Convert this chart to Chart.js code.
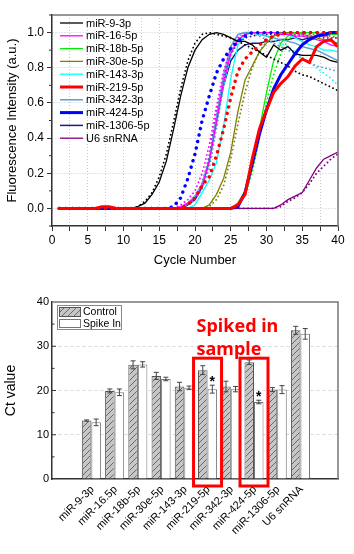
<!DOCTYPE html>
<html lang="en">
<head>
<meta charset="UTF-8">
<title>miRNA qPCR curves and Ct values</title>
<style>
  body { margin: 0; background: #fff; }
  canvas { display: block; }
</style>
</head>
<body>
<canvas id="curves" width="354" height="276"></canvas>
<canvas id="ctbars" width="354" height="278"></canvas>

<script src="https://cdn.jsdelivr.net/npm/chart.js"></script>
<script>
// ---------- amplification curves (top panel) ----------
const cycles = [1,2,3,4,5,6,7,8,9,10,11,12,13,14,15,16,17,18,19,20,21,22,23,24,25,26,27,28,29,30,31,32,33,34,35,36,37,38,39,40];

// solid = replicate 1, dotted = replicate 2
const mir9_a   = [0,0,0,0,0,0,0,0,0,0,0,0.01,0.03,0.08,0.15,0.27,0.45,0.64,0.80,0.90,0.96,0.99,1.00,0.99,0.97,0.95,0.95,0.93,0.89,0.86,0.93,0.90,0.92,0.88,0.87,0.87,0.87,0.86,0.84,0.83];
const mir9_b   = [0,0,0,0,0,0,0,0,0,0,0,0.01,0.04,0.09,0.18,0.31,0.49,0.68,0.84,0.94,0.99,1.00,0.99,0.98,0.97,0.95,0.93,0.91,0.89,0.87,0.85,0.83,0.81,0.78,0.76,0.75,0.73,0.71,0.69,0.67];
const mir16_a  = [0,0,0,0,0,0,0,0,0,0,0,0,0,0,0,0,0,0.01,0.03,0.06,0.13,0.27,0.49,0.72,0.88,0.96,0.99,1.00,1.00,1.00,1.00,0.99,0.99,0.98,0.98,0.97,0.96,0.95,0.93,0.92];
const mir16_b  = [0,0,0,0,0,0,0,0,0,0,0,0,0,0,0,0,0,0.02,0.05,0.10,0.20,0.36,0.58,0.78,0.91,0.97,0.99,1.00,1.00,1.00,1.00,1.00,0.99,0.99,0.99,0.98,0.98,0.98,0.97,0.97];
const mir18b_a = [0,0,0,0,0,0,0,0,0,0,0,0,0,0,0,0,0,0,0,0,0,0,0,0,0,0.03,0.10,0.24,0.45,0.66,0.84,0.94,0.98,1.00,1.00,1.00,1.00,0.99,0.99,0.99];
const mir18b_b = [0,0,0,0,0,0,0,0,0,0,0,0,0,0,0,0,0,0,0,0,0,0,0,0,0,0.02,0.08,0.20,0.40,0.60,0.76,0.88,0.96,0.99,1.00,1.00,1.00,1.00,0.99,0.99];
const mir30e_a = [0,0,0,0,0,0,0,0,0,0,0,0,0,0,0,0,0,0,0,0,0,0.02,0.08,0.17,0.32,0.55,0.73,0.81,0.89,0.94,0.98,1.00,1.00,1.00,0.99,0.98,0.97,0.96,0.95,0.94];
const mir30e_b = [0,0,0,0,0,0,0,0,0,0,0,0,0,0,0,0,0,0,0,0,0,0.01,0.05,0.13,0.28,0.48,0.66,0.80,0.89,0.95,0.98,1.00,1.00,1.00,1.00,0.99,0.99,0.98,0.98,0.97];
const mir143_a = [0,0,0,0,0,0,0,0,0,0,0,0,0,0,0,0,0,0,0,0.02,0.09,0.16,0.26,0.47,0.74,0.93,0.99,1.00,1.00,1.00,1.00,1.00,0.99,0.97,0.95,0.93,0.92,0.90,0.90,0.89];
const mir143_b = [0,0,0,0,0,0,0,0,0,0,0,0,0,0,0,0,0,0,0.03,0.07,0.14,0.27,0.48,0.70,0.86,0.95,0.99,1.00,0.99,0.98,0.96,0.94,0.92,0.89,0.86,0.83,0.80,0.77,0.74,0.70];
const mir219_a = [0,0,0,0,0,0,0.01,0.01,0,0,0,0,0,0,0,0,0,0,0,0,0,0,0,0,0,0.02,0.08,0.28,0.45,0.56,0.66,0.71,0.75,0.81,0.85,0.83,0.92,0.95,0.96,0.92];
const mir219_b = [0,0,0,0,0,0,0,0,0,0,0,0,0,0,0,0,0,0,0.02,0.06,0.13,0.18,0.30,0.45,0.63,0.78,0.85,0.89,0.93,0.96,0.98,0.99,1.00,1.00,1.00,1.00,1.00,1.00,1.00,1.00];
const mir342_a = [0,0,0,0,0,0,0,0,0,0,0,0,0,0,0,0,0,0,0.03,0.07,0.14,0.28,0.52,0.76,0.92,0.99,1.00,1.00,0.99,0.98,0.97,0.96,0.95,0.94,0.92,0.91,0.90,0.88,0.86,0.84];
const mir342_b = [0,0,0,0,0,0,0,0,0,0,0,0,0,0,0,0,0,0,0.02,0.05,0.11,0.23,0.45,0.70,0.89,0.98,1.00,0.99,0.98,0.96,0.94,0.92,0.90,0.88,0.85,0.83,0.81,0.80,0.79,0.78];
const mir424_a = [0,0,0,0,0,0,0,0,0,0,0,0,0,0,0,0,0,0,0,0,0,0,0,0,0,0.01,0.09,0.25,0.42,0.56,0.68,0.76,0.82,0.88,0.93,0.96,0.98,0.99,1.00,1.00];
const mir424_b = [0,0,0,0,0,0,0,0,0,0,0,0,0,0,0,0,0.01,0.06,0.17,0.31,0.50,0.64,0.77,0.85,0.91,0.95,0.98,1.00,1.00,1.00,1.00,1.00,1.00,1.00,1.00,1.00,1.00,1.00,1.00,1.00];
const mir1306_a = [0,0,0,0,0,0,0,0,0,0,0,0,0,0,0,0,0,0,0.02,0.05,0.12,0.27,0.50,0.70,0.84,0.90,0.93,0.94,0.94,0.95,0.95,0.96,0.96,0.97,0.96,0.97,0.98,0.98,0.99,0.99];
const mir1306_b = [0,0,0,0,0,0,0,0,0,0,0,0,0,0,0,0,0,0,0.03,0.06,0.14,0.30,0.54,0.75,0.88,0.94,0.97,0.98,0.99,0.99,0.99,0.99,0.99,0.98,0.98,0.98,0.98,0.97,0.97,0.97];
const u6_a     = [0,0,0,0,0,0,0,0,0,0,0,0,0,0,0,0,0,0,0,0,0,0,0,0,0,0,0,0,0,0,0,0.02,0.05,0.07,0.09,0.16,0.23,0.28,0.30,0.32];
const u6_b     = [0,0,0,0,0,0,0,0,0,0,0,0,0,0,0,0,0,0,0,0,0,0,0,0,0,0,0,0,0,0,0,0.01,0.04,0.06,0.09,0.14,0.20,0.24,0.28,0.31];

const seriesNames = ['miR-9-3p', 'miR-16-5p', 'miR-18b-5p', 'miR-30e-5p', 'miR-143-3p',
                     'miR-219-5p', 'miR-342-3p', 'miR-424-5p', 'miR-1306-5p', 'U6 snRNA'];
const solidRuns  = [mir9_a, mir16_a, mir18b_a, mir30e_a, mir143_a, mir219_a, mir342_a, mir424_a, mir1306_a, u6_a];
const dottedRuns = [mir9_b, mir16_b, mir18b_b, mir30e_b, mir143_b, mir219_b, mir342_b, mir424_b, mir1306_b, u6_b];

const seriesColors = ['#000000', '#ff00ff', '#00ee00', '#808000', '#00ffff',
                      '#ff0000', '#5b9bd5', '#0000ff', '#1c1c80', '#800080'];
const lineWidths   = [1.3, 1.3, 1.3, 1.3, 1.3, 3, 1.5, 3, 1.5, 1.3];

// ---------- Ct values (bottom panel) ----------
const targets   = ['miR-9-3p', 'miR-16.5p', 'miR-18b-5p', 'miR-30e-5p', 'miR-143-3p',
                   'miR-219-5p', 'miR-342-3p', 'miR-424-5p', 'miR-1306-5p', 'U6 snRNA'];
const controlCt = [13.2, 19.9, 25.8, 23.3, 20.9, 24.6, 20.9, 26.4, 20.2, 33.6];
const controlSd = [0.15, 0.45, 0.9, 0.8, 0.95, 1.0, 1.2, 0.5, 0.45, 0.9];
const spikeCt   = [12.8, 19.6, 25.9, 22.6, 20.6, 20.3, 20.3, 17.4, 20.2, 32.8];
const spikeSd   = [0.75, 0.75, 0.6, 0.4, 0.4, 0.9, 0.6, 0.4, 0.9, 1.2];
const spikedIdx = [5, 7];   // targets spiked into the sample (boxed, starred)

const FONT = "'Liberation Sans', Arial, sans-serif";
Chart.defaults.font.family = FONT;
Chart.defaults.color = '#000';
Chart.defaults.animation = false;

// top chart: lines
const curveSets = [];
seriesNames.forEach((name, i) => {
    const thick = lineWidths[i] >= 3;
    curveSets.push({
        label: name,
        data: cycles.map((c, k) => ({ x: c, y: solidRuns[i][k] })),
        borderColor: seriesColors[i],
        borderWidth: lineWidths[i],
        pointRadius: 0,
        order: thick ? 0 : 1
    });
    curveSets.push({
        label: '',
        data: cycles.map((c, k) => ({ x: c, y: dottedRuns[i][k] })),
        borderColor: seriesColors[i],
        borderWidth: thick ? 3.4 : 1.8,
        borderDash: thick ? [0.1, 6.5] : [0.1, 4],
        borderCapStyle: 'round',
        pointRadius: 0,
        order: thick ? 0 : 1
    });
});

const curveDecor = {
    id: 'curveDecor',
    afterDraw(chart) {
        const { ctx, chartArea: a, scales: { y } } = chart;
        ctx.save();
        // top/right frame
        ctx.strokeStyle = '#777';
        ctx.lineWidth = 1.5;
        ctx.beginPath();
        ctx.moveTo(a.left, a.top);
        ctx.lineTo(a.right, a.top);
        ctx.lineTo(a.right, a.bottom);
        ctx.stroke();
        // minor y ticks
        ctx.strokeStyle = '#333';
        ctx.lineWidth = 1;
        ctx.beginPath();
        for (let k = -1; k <= 11; k += 2) {
            const py = y.getPixelForValue(k / 10);
            ctx.moveTo(a.left - 3, py);
            ctx.lineTo(a.left, py);
        }
        ctx.stroke();
        // legend inside plot
        ctx.font = '11px ' + FONT;
        ctx.textBaseline = 'middle';
        ctx.fillStyle = '#000';
        seriesNames.forEach((name, i) => {
            const ly = a.top + 8 + i * 12.8;
            ctx.strokeStyle = seriesColors[i];
            ctx.lineWidth = lineWidths[i];
            ctx.beginPath();
            ctx.moveTo(a.left + 8, ly);
            ctx.lineTo(a.left + 31, ly);
            ctx.stroke();
            ctx.fillText(name, a.left + 34, ly + 0.5);
        });
        ctx.restore();
    }
};

new Chart(document.getElementById('curves'), {
    type: 'line',
    data: { datasets: curveSets },
    options: {
        responsive: false,
        layout: { padding: { top: 15, right: 16, left: 0, bottom: 0 } },
        plugins: { legend: { display: false }, tooltip: { enabled: false } },
        scales: {
            x: {
                type: 'linear', min: 0, max: 40,
                afterBuildTicks: s => {
                    s.ticks = [];
                    for (let v = 0; v <= 40; v += 2.5) s.ticks.push({ value: v });
                },
                afterFit: s => { s.height = 50; },
                ticks: {
                    autoSkip: false, maxRotation: 0, padding: 2,
                    font: { size: 12 },
                    callback: v => (v % 5 === 0 ? String(v) : '')
                },
                grid: { color: '#c8c8c8', tickLength: 5, tickColor: '#333' },
                border: { color: '#333', width: 1.5, dash: [1, 2] },
                title: { display: true, text: 'Cycle Number', font: { size: 13 },
                         padding: { top: 0, bottom: 8 } }
            },
            y: {
                min: -0.1, max: 1.1,
                afterBuildTicks: s => {
                    s.ticks = [0, 0.2, 0.4, 0.6, 0.8, 1.0].map(v => ({ value: v }));
                },
                afterFit: s => { s.width = 52; },
                ticks: { padding: 3, font: { size: 12 }, callback: v => v.toFixed(1) },
                grid: { color: '#c8c8c8', tickLength: 5, tickColor: '#333' },
                border: { color: '#333', width: 1.5, dash: [1, 2] },
                title: { display: true, text: 'Fluorescence Intensity (a.u.)', font: { size: 13 },
                         padding: { top: 5, bottom: 0 } }
            }
        }
    },
    plugins: [curveDecor]
});

// bottom chart: bars
const barCanvas = document.getElementById('ctbars');
function makeHatch() {
    const c = document.createElement('canvas');
    c.width = 6; c.height = 6;
    const g = c.getContext('2d');
    g.fillStyle = '#c6c6c6';
    g.fillRect(0, 0, 6, 6);
    g.strokeStyle = '#5e5e5e';
    g.lineWidth = 0.9;
    g.beginPath();
    g.moveTo(0, 6); g.lineTo(6, 0);
    g.moveTo(-1, 1); g.lineTo(1, -1);
    g.moveTo(5, 7); g.lineTo(7, 5);
    g.stroke();
    return barCanvas.getContext('2d').createPattern(c, 'repeat');
}
const hatch = makeHatch();

const barDecor = {
    id: 'barDecor',
    afterDatasetsDraw(chart) {
        const { ctx, scales: { y } } = chart;
        ctx.save();
        ctx.strokeStyle = '#444';
        ctx.lineWidth = 1;
        [[controlCt, controlSd], [spikeCt, spikeSd]].forEach(([vals, sd], di) => {
            chart.getDatasetMeta(di).data.forEach((bar, i) => {
                const top = y.getPixelForValue(vals[i] + sd[i]);
                const bot = y.getPixelForValue(vals[i] - sd[i]);
                ctx.beginPath();
                ctx.moveTo(bar.x, top); ctx.lineTo(bar.x, bot);
                ctx.moveTo(bar.x - 2.5, top); ctx.lineTo(bar.x + 2.5, top);
                ctx.moveTo(bar.x - 2.5, bot); ctx.lineTo(bar.x + 2.5, bot);
                ctx.stroke();
            });
        });
        ctx.restore();
    },
    afterDraw(chart) {
        const { ctx, chartArea: a, scales: { x, y } } = chart;
        ctx.save();
        // top/right frame
        ctx.strokeStyle = '#777';
        ctx.lineWidth = 1.5;
        ctx.beginPath();
        ctx.moveTo(a.left, a.top);
        ctx.lineTo(a.right, a.top);
        ctx.lineTo(a.right, a.bottom);
        ctx.stroke();
        // inward y ticks
        ctx.strokeStyle = '#333';
        ctx.lineWidth = 1;
        ctx.beginPath();
        for (let v = 5; v < 40; v += 5) {
            const py = y.getPixelForValue(v);
            ctx.moveTo(a.left, py);
            ctx.lineTo(a.left + (v % 10 === 0 ? 4 : 2.5), py);
        }
        ctx.stroke();

        // legend
        const lx = a.left + 5, ly = a.top + 3;
        ctx.strokeStyle = '#888';
        ctx.strokeRect(lx + 0.5, ly + 0.5, 64, 24);
        ctx.fillStyle = hatch;
        ctx.fillRect(lx + 2, ly + 2, 22, 10);
        ctx.strokeStyle = '#555';
        ctx.strokeRect(lx + 2.5, ly + 2.5, 21, 9);
        ctx.fillStyle = '#fff';
        ctx.fillRect(lx + 2, ly + 14, 22, 9);
        ctx.strokeStyle = '#777';
        ctx.strokeRect(lx + 2.5, ly + 14.5, 21, 8);
        ctx.fillStyle = '#000';
        ctx.font = '10.5px ' + FONT;
        ctx.textBaseline = 'middle';
        ctx.fillText('Control', lx + 26, ly + 7.5);
        ctx.fillText('Spike In', lx + 26, ly + 19);

        // red boxes + label
        const boxTop = y.getPixelForValue(27.3);
        ctx.strokeStyle = '#ff0000';
        ctx.lineWidth = 3;
        spikedIdx.forEach(i => {
            const cx = x.getPixelForValue(i);
            ctx.strokeRect(cx - 14, boxTop, 28, a.bottom + 7 - boxTop);
        });
        ctx.fillStyle = '#ff0000';
        ctx.font = "bold 18px 'Noto Sans', sans-serif";
        ctx.textBaseline = 'middle';
        const tx = x.getPixelForValue(spikedIdx[0]) - 11;
        ctx.fillText('Spiked in', tx, boxTop - 31);
        ctx.fillText('sample', tx, boxTop - 8);

        // significance stars
        ctx.fillStyle = '#000';
        ctx.font = 'bold 14px ' + FONT;
        ctx.textAlign = 'center';
        ctx.textBaseline = 'alphabetic';
        spikedIdx.forEach(i => {
            const bar = chart.getDatasetMeta(1).data[i];
            ctx.fillText('*', bar.x, y.getPixelForValue(spikeCt[i] + spikeSd[i]) + 1);
        });
        ctx.restore();
    }
};

new Chart(barCanvas, {
    type: 'bar',
    data: {
        datasets: [
            {
                label: 'Control',
                data: controlCt.map((v, i) => ({ x: i, y: v })),
                backgroundColor: hatch,
                borderColor: '#555',
                borderWidth: 1,
                categoryPercentage: 0.82,
                barPercentage: 1.0
            },
            {
                label: 'Spike In',
                data: spikeCt.map((v, i) => ({ x: i, y: v })),
                backgroundColor: '#ffffff',
                borderColor: '#777',
                borderWidth: 1,
                categoryPercentage: 0.82,
                barPercentage: 1.0
            }
        ]
    },
    options: {
        responsive: false,
        layout: { padding: { top: 26, right: 16, left: 0, bottom: 0 } },
        plugins: { legend: { display: false }, tooltip: { enabled: false } },
        scales: {
            x: {
                type: 'linear', min: -1.08, max: 10,
                afterBuildTicks: s => { s.ticks = targets.map((t, i) => ({ value: i })); },
                afterFit: s => { s.height = 75; },
                ticks: {
                    autoSkip: false, minRotation: 45, maxRotation: 45,
                    padding: 4, labelOffset: 1, font: { size: 11 },
                    callback: v => targets[v]
                },
                grid: { display: false, drawTicks: false },
                border: { color: '#333', width: 1.5 }
            },
            y: {
                min: 0, max: 40,
                afterBuildTicks: s => { s.ticks = [0, 10, 20, 30, 40].map(v => ({ value: v })); },
                afterFit: s => { s.width = 52; },
                ticks: { padding: 3, font: { size: 11 } },
                grid: {
                    drawTicks: false,
                    color: c => (c.tick && c.tick.value > 0 && c.tick.value < 40 ? '#d8d8d8' : 'rgba(0,0,0,0)')
                },
                border: { color: '#333', width: 1.5, dash: [3, 3] },
                title: { display: true, text: 'Ct value', font: { size: 14 },
                         padding: { top: 3, bottom: 0 } }
            }
        }
    },
    plugins: [barDecor]
});
</script>
</body>
</html>
